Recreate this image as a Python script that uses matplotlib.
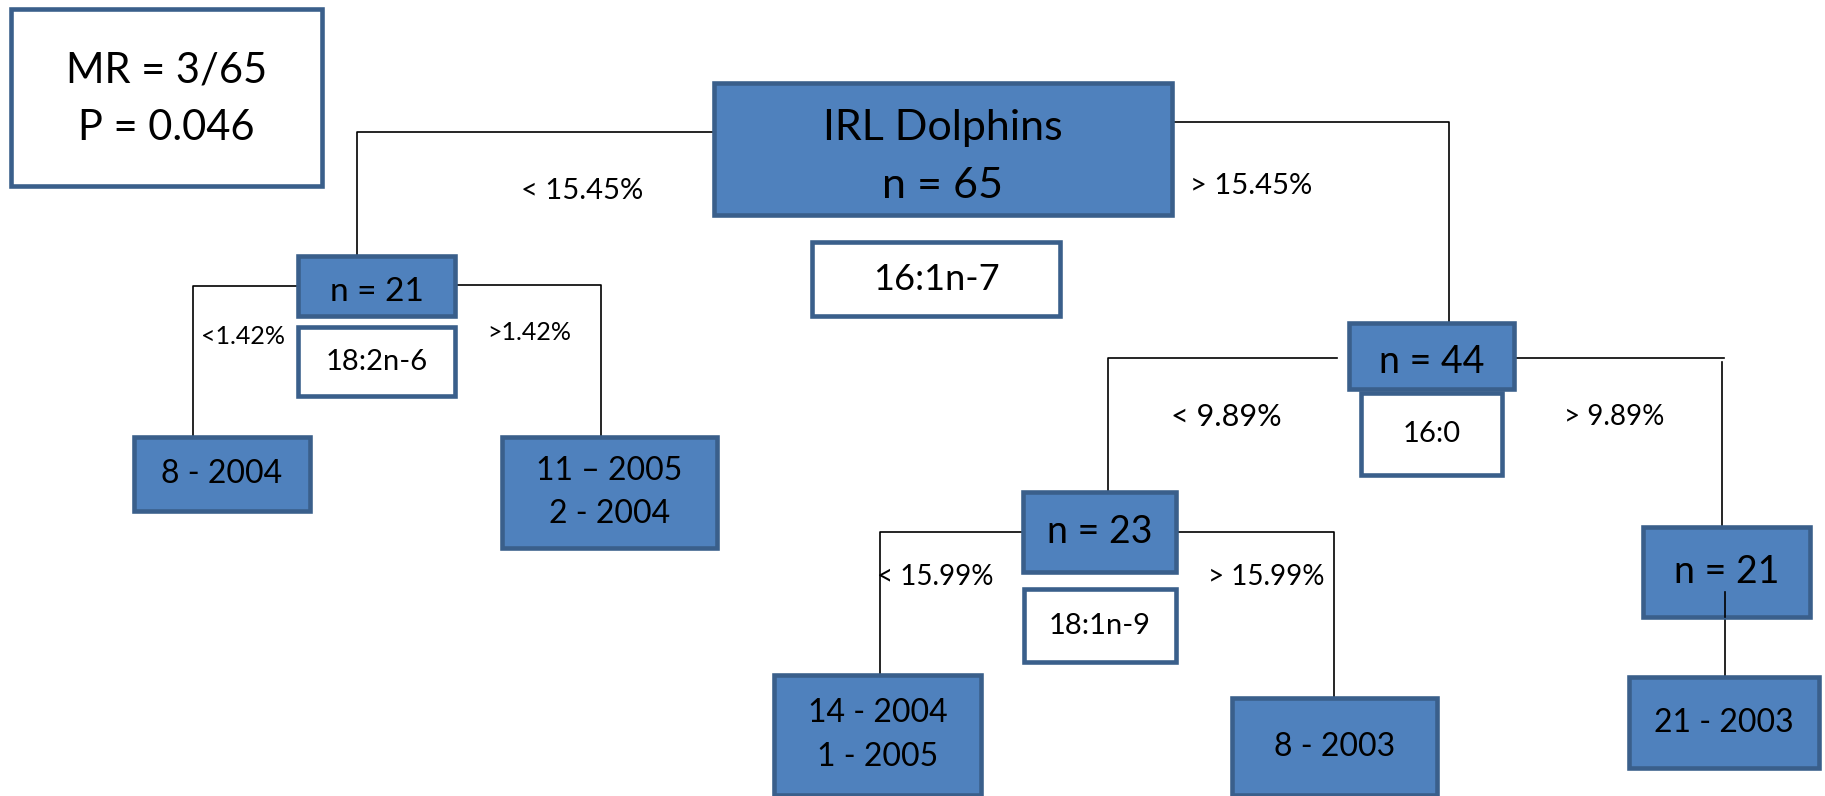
import matplotlib.pyplot as plt
from matplotlib.patches import Rectangle

plt.rcParams['font.family'] = ['Lato', 'DejaVu Sans']

# texto de los nodos
info_texto = "MR = 3/65\nP = 0.046"
raiz_texto = "IRL Dolphins\nn = 65"
nodos_n = ["n = 21", "n = 44", "n = 23", "n = 21"]
variables = ["16:1n-7", "18:2n-6", "16:0", "18:1n-9"]
hojas = ["8 - 2004", "11 \u2013 2005\n2 - 2004", "14 - 2004\n1 - 2005", "8 - 2003", "21 - 2003"]
cortes = ["< 15.45%", "> 15.45%", "<1.42%", ">1.42%",
          "< 9.89%", "> 9.89%", "< 15.99%", "> 15.99%"]

AZUL = '#4F81BD'
BORDE = '#3A5F8B'

# posiciones en pixeles (x0, x1, y0, y1)
caja_info = (11, 322, 9, 186)
caja_raiz = (714, 1172, 83, 215)
cajas_n = [(298, 455, 256, 316), (1349, 1514, 323, 389),
           (1023, 1176, 492, 572), (1643, 1810, 527, 617)]
cajas_var = [(812, 1060, 242, 316), (298, 455, 327, 396),
             (1361, 1502, 393, 475), (1024, 1176, 589, 662)]
cajas_hoja = [(134, 310, 437, 511), (502, 717, 437, 548),
              (774, 981, 675, 795), (1232, 1437, 698, 795),
              (1629, 1819, 677, 768)]
pos_cortes = [(582, 191), (1251, 186), (243, 336), (529, 333),
              (1226, 417), (1614, 417), (935, 577), (1266, 577)]
tam_cortes = [21, 21, 18, 18, 22, 20, 20, 20]

lineas = [
    [(714, 132), (357, 132), (357, 256)],
    [(1172, 122), (1449, 122), (1449, 323)],
    [(298, 286), (193, 286), (193, 437)],
    [(455, 285), (601, 285), (601, 437)],
    [(1337, 358), (1108, 358), (1108, 492)],
    [(1514, 358), (1724, 358)],
    [(1722, 362), (1722, 527)],
    [(1023, 532), (880, 532), (880, 675)],
    [(1176, 532), (1334, 532), (1334, 698)],
    [(1725, 592), (1725, 677)],
]

fig = plt.figure(figsize=(18.25, 7.96), dpi=100)
ax = fig.add_axes([0, 0, 1, 1])
ax.set_xlim(0, 1825)
ax.set_ylim(796, 0)
ax.axis('off')

for ln in lineas:
    xs = [p[0] for p in ln]
    ys = [p[1] for p in ln]
    ax.plot(xs, ys, color='black', lw=1.2, zorder=1)


def caja(c, texto, size, relleno, zorder=2, dy=0, esp=1.5):
    x0, x1, y0, y1 = c
    ax.add_patch(Rectangle((x0, y0), x1 - x0, y1 - y0, facecolor=relleno,
                           edgecolor=BORDE, lw=3.3, zorder=zorder))
    ax.text((x0 + x1) / 2, (y0 + y1) / 2 + dy, texto, ha='center', va='center',
            fontsize=size, color='black', linespacing=esp, zorder=zorder + 1)


caja(caja_info, info_texto, 30, 'white', dy=2, esp=1.64)
caja(caja_raiz, raiz_texto, 31, AZUL, dy=8, esp=1.62)

tam_n = [24, 27, 27, 27]
dy_n = [6, 6, 0, 0]
for c, t, s, d in zip(cajas_n, nodos_n, tam_n, dy_n):
    caja(c, t, s, AZUL, dy=d)

tam_var = [26, 21, 21, 21]
for c, t, s in zip(cajas_var, variables, tam_var):
    caja(c, t, s, 'white')

for c, t in zip(cajas_hoja, hojas):
    caja(c, t, 23, AZUL, esp=1.55)

# linea que cruza la ultima caja n = 21
ax.plot([1725, 1725], [592, 617], color='black', lw=1.2, zorder=4)

for (x, y), t, s in zip(pos_cortes, cortes, tam_cortes):
    ax.text(x, y, t, ha='center', va='center', fontsize=s, color='black')

fig.savefig('out.png', dpi=100)
